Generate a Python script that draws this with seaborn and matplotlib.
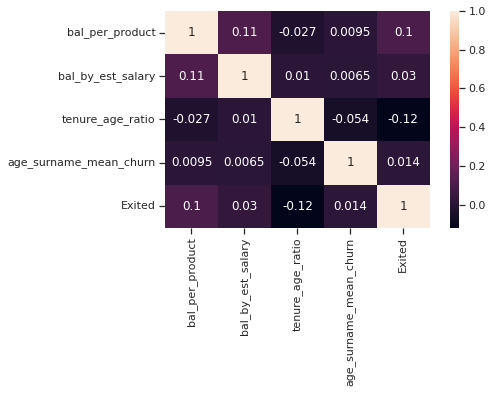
import numpy as np
import pandas as pd
import matplotlib
matplotlib.use("Agg")
import matplotlib.pyplot as plt
import seaborn as sns

features = ["bal_per_product", "bal_by_est_salary", "tenure_age_ratio",
            "age_surname_mean_churn", "Exited"]

bal_per_product = [1, 0.11, -0.027, 0.0095, 0.1]
bal_by_est_salary = [0.11, 1, 0.01, 0.0065, 0.03]
tenure_age_ratio = [-0.027, 0.01, 1, -0.054, -0.12]
age_surname_mean_churn = [0.0095, 0.0065, -0.054, 1, 0.014]
exited = [0.1, 0.03, -0.12, 0.014, 1]

correlation_matrix = pd.DataFrame(
    [bal_per_product, bal_by_est_salary, tenure_age_ratio, age_surname_mean_churn, exited],
    index=features, columns=features)

sns.set_theme(style="ticks")
plt.rcParams["font.family"] = ["DejaVu Sans"]

fig = plt.figure(figsize=(494 / 72, 393 / 72), dpi=72)
ax = fig.add_axes([0.334, 0.420, 0.536, 0.552])
cax = fig.add_axes([0.911, 0.420, 0.018, 0.552])

sns.heatmap(correlation_matrix, annot=True, ax=ax, cbar_ax=cax)
ax.tick_params(labelsize=11)
cax.tick_params(labelsize=11)
for s in cax.spines.values():
    s.set_visible(False)

fig.savefig("out.png", dpi=72)
